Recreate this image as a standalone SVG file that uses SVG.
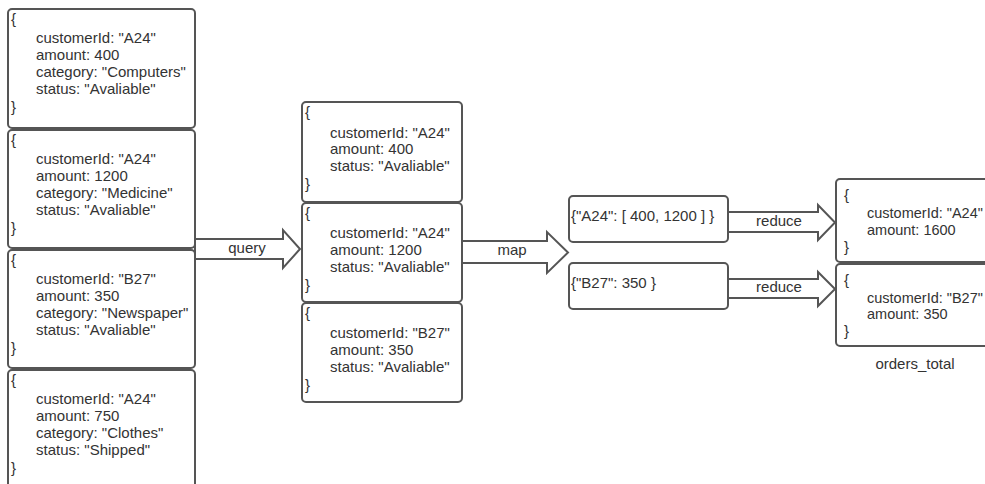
<svg xmlns="http://www.w3.org/2000/svg" width="985" height="484" viewBox="0 0 985 484">
<style>
.box{fill:#ffffff;stroke:#555555;stroke-width:2}
.arrow{fill:#ffffff;stroke:#555555;stroke-width:2;stroke-linejoin:miter}
text{font-family:"Liberation Sans",Arial,sans-serif;font-size:15px;fill:#333333}
.c{text-anchor:middle}
.s{font-size:14.5px}
</style>
<rect width="985" height="484" fill="#ffffff"/>
<g id="connectors">
<g id="query-arrow"><path class="arrow" d="M195,239 H283 V230 L300,249 L283,268 V259 H195 Z"/><text class="c" x="247" y="253">query</text></g>
<g id="map-arrow"><path class="arrow" d="M462,241 H547 V232 L568,252.5 L547,273 V263 H462 Z"/><text class="c" x="512" y="255">map</text></g>
<g id="reduce-arrow-1"><path class="arrow" d="M728,212 H818 V205 L835,222.5 L818,240 V232 H728 Z"/><text class="c" x="779" y="226">reduce</text></g>
<g id="reduce-arrow-2"><path class="arrow" d="M728,279 H818 V272 L835,289 L818,306 V298 H728 Z"/><text class="c" x="779" y="292">reduce</text></g>
</g>
<g id="doc1"><rect class="box" x="8" y="9" width="187" height="119" rx="4"/>
<text x="11" y="24">{</text><text x="36" y="43">customerId: "A24"</text><text x="36" y="60">amount: 400</text><text x="36" y="77">category: "Computers"</text><text x="36" y="94">status: "Avaliable"</text><text x="11" y="112">}</text></g>
<g id="doc2"><rect class="box" x="8" y="130" width="187" height="118" rx="4"/>
<text x="11" y="145">{</text><text x="36" y="164">customerId: "A24"</text><text x="36" y="181">amount: 1200</text><text x="36" y="198">category: "Medicine"</text><text x="36" y="215">status: "Avaliable"</text><text x="11" y="233">}</text></g>
<g id="doc3"><rect class="box" x="8" y="250" width="187" height="118" rx="4"/>
<text x="11" y="265">{</text><text x="36" y="284">customerId: "B27"</text><text x="36" y="301">amount: 350</text><text x="36" y="318">category: "Newspaper"</text><text x="36" y="335">status: "Avaliable"</text><text x="11" y="353">}</text></g>
<g id="doc4"><rect class="box" x="8" y="370" width="187" height="125" rx="4"/>
<text x="11" y="385">{</text><text x="36" y="404">customerId: "A24"</text><text x="36" y="421">amount: 750</text><text x="36" y="438">category: "Clothes"</text><text x="36" y="455">status: "Shipped"</text><text x="11" y="473">}</text></g>
<g id="q1"><rect class="box" x="302" y="102" width="160" height="100" rx="4"/>
<text x="305" y="117">{</text><text x="330" y="138">customerId: "A24"</text><text x="330" y="154">amount: 400</text><text x="330" y="171">status: "Avaliable"</text><text x="305" y="189">}</text></g>
<g id="q2"><rect class="box" x="302" y="203" width="160" height="99" rx="4"/>
<text x="305" y="218">{</text><text x="330" y="238">customerId: "A24"</text><text x="330" y="255">amount: 1200</text><text x="330" y="272">status: "Avaliable"</text><text x="305" y="290">}</text></g>
<g id="q3"><rect class="box" x="302" y="303" width="160" height="99" rx="4"/>
<text x="305" y="318">{</text><text x="330" y="338">customerId: "B27"</text><text x="330" y="355">amount: 350</text><text x="330" y="372">status: "Avaliable"</text><text x="305" y="390">}</text></g>
<g id="m1"><rect class="box" x="569" y="196" width="159" height="46" rx="4"/>
<text x="571" y="221">{"A24": [ 400, 1200 ] }</text></g>
<g id="m2"><rect class="box" x="569" y="263" width="159" height="46" rx="4"/>
<text x="571" y="288">{"B27": 350 }</text></g>
<g id="r1"><rect class="box" x="836" y="179" width="170" height="83" rx="4"/>
<text x="844" y="200">{</text><text class="s" x="867" y="218">customerId: "A24"</text><text class="s" x="867" y="235">amount: 1600</text><text x="844" y="252">}</text></g>
<g id="r2"><rect class="box" x="836" y="264" width="170" height="82" rx="4"/>
<text x="844" y="285">{</text><text class="s" x="867" y="303">customerId: "B27"</text><text class="s" x="867" y="319">amount: 350</text><text x="844" y="336">}</text></g>
<g id="orders_total"><text class="c" x="915" y="369">orders_total</text></g>
</svg>
